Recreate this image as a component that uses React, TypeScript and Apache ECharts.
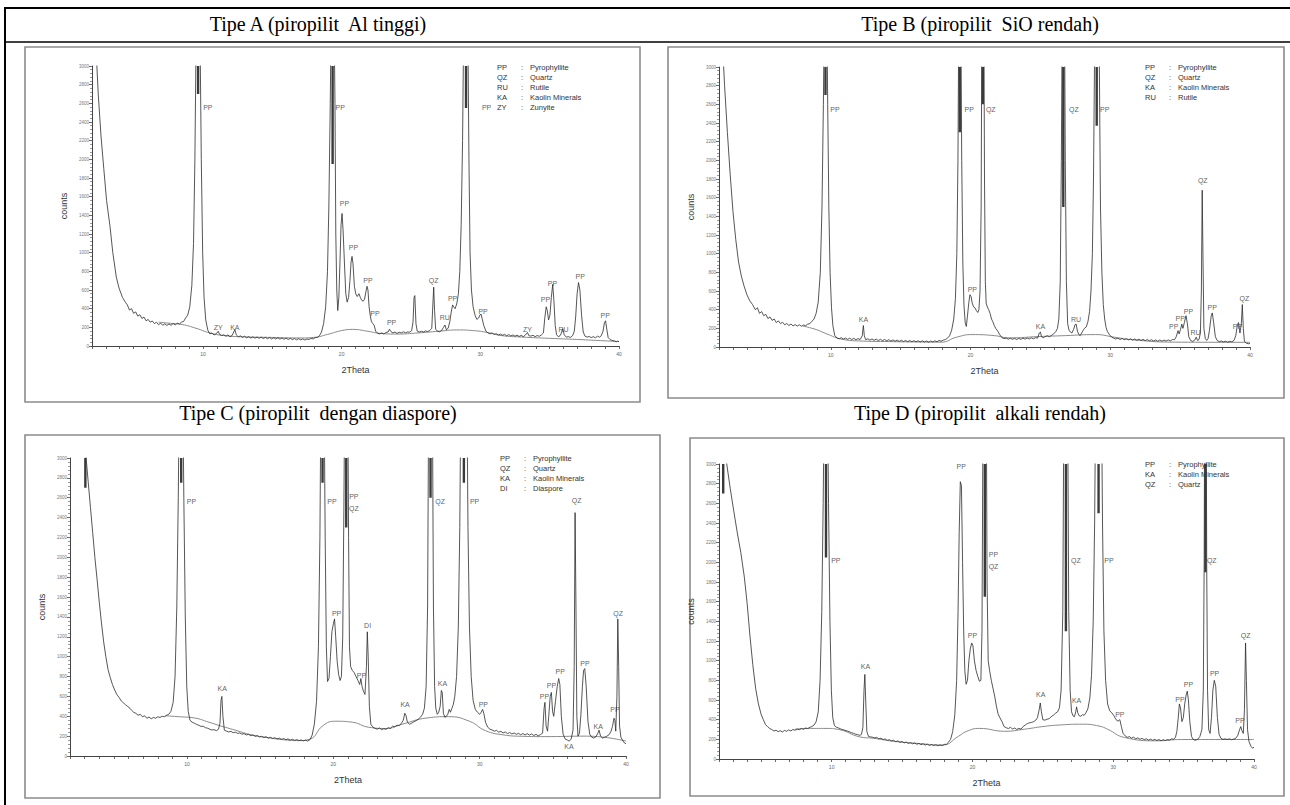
import React, { useEffect, useRef } from "react";
import * as echarts from "echarts";

// ---------- titles ----------
const TITLES = [
  "Tipe A (piropilit\u00a0 Al tinggi)",
  "Tipe B (piropilit\u00a0 SiO rendah)",
  "Tipe C (piropilit\u00a0 dengan diaspore)",
  "Tipe D (piropilit\u00a0 alkali rendah)",
];

// ---------- legends ----------
const legendA = [["PP", "Pyrophyllite"], ["QZ", "Quartz"], ["RU", "Rutile"], ["KA", "Kaolin Minerals"], ["ZY", "Zunyite"]];
const legendB = [["PP", "Pyrophyllite"], ["QZ", "Quartz"], ["KA", "Kaolin Minerals"], ["RU", "Rutile"]];
const legendC = [["PP", "Pyrophyllite"], ["QZ", "Quartz"], ["KA", "Kaolin Minerals"], ["DI", "Diaspore"]];
const legendD = [["PP", "Pyrophyllite"], ["KA", "Kaolin Minerals"], ["QZ", "Quartz"]];

// ---------- axis ----------
const X_MIN = 2;
const X_MAX = 40;
const Y_MIN = 0;
const Y_MAX = 3000;

// ---------- Tipe A pattern [2theta, counts] ----------
const patternA = [
  [2.25, 3300], [2.45, 2700], [2.65, 2250], [2.85, 1900], [3.05, 1560], [3.3, 1280], [3.5, 1000], [3.75, 740], [3.95, 620], [4.2, 520],
  [4.4, 470], [4.55, 440], [4.7, 385], [4.85, 400], [5.0, 350], [5.15, 365], [5.3, 320], [5.45, 335], [5.6, 295], [5.75, 310],
  [5.9, 270], [6.05, 285], [6.2, 255], [6.35, 268], [6.5, 240], [6.65, 255], [6.8, 228], [6.95, 245], [7.1, 222], [7.25, 238],
  [7.4, 220], [7.55, 236], [7.7, 222], [7.85, 240], [8.0, 226], [8.15, 244], [8.3, 235], [8.45, 255], [8.6, 262], [8.75, 300],
  [8.9, 330], [9.05, 420], [9.2, 650], [9.32, 1100], [9.42, 2000], [9.5, 3200], [9.58, 4000], [9.72, 4000], [9.8, 3200], [9.88, 2000],
  [9.98, 1000], [10.08, 520], [10.2, 280], [10.35, 170], [10.5, 130], [10.65, 140], [10.8, 118], [10.95, 130], [11.1, 158], [11.2, 125],
  [11.35, 112], [11.5, 120], [11.65, 105], [11.8, 118], [11.95, 100], [12.1, 112], [12.3, 175], [12.4, 120], [12.55, 98], [12.7, 108],
  [12.85, 92], [13.0, 104], [13.15, 88], [13.3, 100], [13.45, 85], [13.6, 98], [13.75, 84], [13.9, 96], [14.05, 82], [14.2, 95],
  [14.35, 80], [14.5, 92], [14.65, 78], [14.8, 90], [14.95, 76], [15.1, 88], [15.25, 75], [15.4, 87], [15.55, 74], [15.7, 86],
  [15.85, 72], [16.0, 84], [16.15, 70], [16.3, 82], [16.45, 68], [16.6, 80], [16.75, 66], [16.9, 78], [17.05, 65], [17.2, 76],
  [17.35, 64], [17.5, 75], [17.65, 70], [17.8, 82], [17.95, 76], [18.1, 90], [18.25, 92], [18.4, 110], [18.55, 150], [18.7, 240],
  [18.85, 420], [18.98, 800], [19.08, 1500], [19.18, 2600], [19.25, 3600], [19.45, 3600], [19.52, 2600], [19.58, 1200], [19.65, 600], [19.72, 380],
  [19.8, 520], [19.88, 900], [19.96, 1300], [20.03, 1420], [20.1, 1250], [20.2, 900], [20.3, 560], [20.4, 470], [20.5, 520], [20.6, 700],
  [20.68, 900], [20.75, 960], [20.82, 880], [20.92, 640], [21.02, 560], [21.12, 530], [21.25, 560], [21.35, 520], [21.45, 490], [21.55, 480],
  [21.65, 500], [21.75, 580], [21.83, 640], [21.9, 600], [21.98, 420], [22.06, 330], [22.15, 260], [22.25, 240], [22.35, 220], [22.45, 160],
  [22.6, 135], [22.75, 130], [22.9, 140], [23.05, 128], [23.2, 145], [23.35, 150], [23.45, 180], [23.55, 155], [23.7, 140], [23.85, 150],
  [24.0, 135], [24.15, 148], [24.3, 140], [24.45, 152], [24.6, 142], [24.75, 150], [24.9, 148], [25.05, 165], [25.15, 260], [25.22, 520],
  [25.28, 540], [25.36, 240], [25.45, 160], [25.6, 150], [25.75, 158], [25.9, 150], [26.05, 162], [26.2, 155], [26.35, 165], [26.5, 190],
  [26.58, 450], [26.64, 630], [26.7, 380], [26.78, 180], [26.9, 160], [27.05, 152], [27.2, 165], [27.35, 200], [27.45, 225], [27.55, 175],
  [27.68, 190], [27.8, 260], [27.9, 360], [28.0, 440], [28.08, 420], [28.18, 400], [28.3, 450], [28.42, 560], [28.52, 800], [28.62, 1300],
  [28.72, 2200], [28.8, 3400], [28.92, 4000], [29.02, 4000], [29.1, 3400], [29.18, 2000], [29.26, 1000], [29.36, 600], [29.48, 420], [29.62, 330],
  [29.75, 285], [29.88, 300], [29.98, 335], [30.06, 340], [30.15, 280], [30.25, 220], [30.4, 160], [30.55, 140], [30.7, 130], [30.85, 140],
  [31.0, 125], [31.15, 132], [31.3, 118], [31.45, 128], [31.6, 115], [31.75, 125], [31.9, 110], [32.05, 122], [32.2, 108], [32.35, 118],
  [32.5, 105], [32.65, 116], [32.8, 102], [32.95, 114], [33.1, 100], [33.25, 118], [33.4, 145], [33.5, 110], [33.65, 106], [33.8, 115],
  [33.95, 100], [34.1, 112], [34.25, 104], [34.4, 118], [34.55, 140], [34.65, 300], [34.75, 420], [34.83, 380], [34.92, 280], [35.02, 330],
  [35.12, 520], [35.22, 660], [35.3, 500], [35.4, 220], [35.5, 120], [35.62, 100], [35.75, 110], [35.85, 140], [35.95, 185], [36.05, 120],
  [36.2, 95], [36.35, 100], [36.5, 92], [36.65, 110], [36.78, 160], [36.88, 320], [36.98, 560], [37.08, 680], [37.18, 600], [37.3, 330],
  [37.42, 150], [37.55, 105], [37.7, 95], [37.85, 102], [38.0, 90], [38.15, 100], [38.3, 88], [38.45, 105], [38.6, 95], [38.72, 110],
  [38.85, 160], [38.95, 250], [39.03, 270], [39.12, 180], [39.22, 90], [39.35, 70], [39.5, 60], [39.65, 55], [39.8, 45], [39.9, 52], [40.0, 45],
];
const baselineA = [
  [6.8, 255], [7.5, 245], [8.5, 230], [9.5, 190], [10.5, 140], [11.5, 112], [13, 98], [15, 92], [17, 86], [18, 92], [19, 125],
  [20, 165], [20.8, 178], [21.8, 160], [22.8, 135], [24, 128], [25.5, 140], [27, 158], [28.3, 172], [29.5, 165], [30.5, 145],
  [31.5, 112], [33, 96], [35, 82], [37, 70], [39, 55], [40, 48],
];
// clipped peaks: [2theta, lower end of the dark top segment]
const darkA = [[9.65, 2700], [19.35, 1950], [28.97, 2550]];
const labelsA = [
  [10.35, 2560, "PP"], [19.9, 2560, "PP"], [30.45, 2560, "PP"], [20.2, 1530, "PP"], [20.85, 1054, "PP"], [21.9, 705, "PP"],
  [22.4, 345, "PP"], [23.6, 255, "PP"], [26.63, 700, "QZ"], [27.44, 310, "RU"], [28.0, 510, "PP"], [30.2, 365, "PP"],
  [11.1, 200, "ZY"], [12.3, 200, "KA"], [33.4, 175, "ZY"], [34.7, 495, "PP"], [35.2, 675, "PP"], [36.0, 175, "RU"],
  [37.2, 745, "PP"], [39.0, 330, "PP"],
];

// ---------- Tipe B ----------
const patternB = [
  [2.2, 3400], [2.4, 2800], [2.6, 2300], [2.8, 1850], [3.0, 1450], [3.2, 1150], [3.4, 910], [3.6, 760], [3.8, 650], [4.0, 560],
  [4.2, 495], [4.4, 455], [4.6, 400], [4.75, 420], [4.9, 360], [5.05, 380], [5.2, 335], [5.35, 350], [5.5, 305], [5.65, 322],
  [5.8, 285], [5.95, 300], [6.1, 262], [6.25, 280], [6.4, 250], [6.55, 265], [6.7, 238], [6.85, 252], [7.0, 230], [7.15, 246],
  [7.3, 226], [7.45, 240], [7.6, 224], [7.75, 238], [7.9, 222], [8.05, 236], [8.2, 228], [8.35, 245], [8.5, 250], [8.65, 275],
  [8.8, 300], [8.95, 360], [9.1, 480], [9.25, 800], [9.37, 1500], [9.47, 2600], [9.55, 3800], [9.7, 3800], [9.78, 2600], [9.86, 1500],
  [9.95, 800], [10.05, 420], [10.15, 230], [10.28, 125], [10.45, 95], [10.6, 88], [10.75, 100], [10.9, 85], [11.05, 96], [11.2, 82],
  [11.35, 94], [11.5, 80], [11.65, 92], [11.8, 78], [11.95, 90], [12.1, 80], [12.25, 120], [12.33, 230], [12.4, 120], [12.5, 78],
  [12.65, 88], [12.8, 74], [12.95, 86], [13.1, 72], [13.25, 84], [13.4, 70], [13.55, 82], [13.7, 68], [13.85, 80], [14.0, 66],
  [14.15, 78], [14.3, 64], [14.45, 76], [14.6, 62], [14.75, 74], [14.9, 60], [15.05, 72], [15.2, 58], [15.35, 70], [15.5, 57],
  [15.65, 69], [15.8, 56], [15.95, 68], [16.1, 55], [16.25, 67], [16.4, 54], [16.55, 66], [16.7, 53], [16.85, 65], [17.0, 52],
  [17.15, 64], [17.3, 54], [17.45, 66], [17.6, 56], [17.75, 70], [17.9, 62], [18.05, 74], [18.2, 80], [18.35, 95], [18.5, 120],
  [18.65, 180], [18.8, 300], [18.92, 520], [19.02, 1000], [19.1, 2000], [19.17, 3800], [19.3, 3800], [19.37, 2000], [19.45, 900], [19.53, 450],
  [19.62, 260], [19.7, 220], [19.78, 330], [19.88, 480], [19.96, 560], [20.04, 540], [20.12, 470], [20.22, 430], [20.32, 420], [20.42, 390],
  [20.52, 370], [20.6, 400], [20.68, 600], [20.76, 1500], [20.82, 3800], [20.95, 3800], [21.0, 1800], [21.06, 700], [21.12, 470], [21.2, 430],
  [21.3, 400], [21.4, 360], [21.5, 300], [21.6, 270], [21.7, 230], [21.8, 200], [21.95, 170], [22.1, 130], [22.25, 100], [22.4, 90],
  [22.55, 96], [22.7, 84], [22.85, 94], [23.0, 82], [23.15, 92], [23.3, 80], [23.45, 92], [23.6, 82], [23.75, 95], [23.9, 84],
  [24.05, 96], [24.2, 86], [24.35, 98], [24.5, 88], [24.65, 100], [24.8, 95], [24.92, 150], [25.0, 160], [25.08, 110], [25.2, 100],
  [25.35, 112], [25.5, 120], [25.65, 110], [25.8, 125], [25.95, 140], [26.1, 165], [26.22, 200], [26.32, 300], [26.42, 700], [26.5, 2000],
  [26.57, 3800], [26.72, 3800], [26.78, 2000], [26.86, 700], [26.95, 250], [27.05, 180], [27.15, 160], [27.25, 150], [27.38, 190], [27.48, 240],
  [27.56, 245], [27.65, 170], [27.75, 135], [27.85, 122], [27.95, 150], [28.05, 175], [28.15, 200], [28.28, 215], [28.4, 270], [28.52, 380],
  [28.62, 600], [28.72, 1000], [28.8, 1800], [28.87, 3000], [28.92, 3800], [29.15, 3800], [29.22, 3000], [29.3, 1500], [29.4, 800], [29.5, 455],
  [29.6, 300], [29.7, 210], [29.8, 165], [29.95, 130], [30.1, 105], [30.25, 95], [30.4, 85], [30.55, 95], [30.7, 80], [30.85, 92],
  [31.0, 78], [31.15, 90], [31.3, 76], [31.45, 88], [31.6, 74], [31.75, 86], [31.9, 72], [32.05, 84], [32.2, 70], [32.35, 82],
  [32.5, 68], [32.65, 80], [32.8, 66], [32.95, 78], [33.1, 64], [33.25, 76], [33.4, 62], [33.55, 75], [33.7, 62], [33.85, 74],
  [34.0, 64], [34.15, 76], [34.3, 66], [34.45, 80], [34.6, 78], [34.72, 110], [34.85, 175], [34.93, 140], [35.03, 190], [35.12, 245],
  [35.2, 200], [35.3, 260], [35.42, 335], [35.52, 250], [35.62, 110], [35.75, 70], [35.9, 60], [36.05, 75], [36.15, 105], [36.25, 70],
  [36.35, 80], [36.45, 150], [36.52, 600], [36.58, 1680], [36.64, 900], [36.7, 200], [36.8, 90], [36.9, 70], [37.0, 90], [37.1, 180],
  [37.22, 330], [37.3, 365], [37.4, 260], [37.52, 110], [37.65, 70], [37.8, 58], [37.95, 64], [38.1, 55], [38.25, 62], [38.4, 52],
  [38.55, 60], [38.7, 55], [38.85, 70], [38.98, 120], [39.1, 240], [39.18, 262], [39.28, 150], [39.38, 250], [39.45, 455], [39.52, 200],
  [39.6, 60], [39.75, 40], [39.9, 35], [40.0, 38],
];
const baselineB = [
  [8.0, 225], [9.0, 185], [9.6, 147], [10.9, 80], [12, 65], [14.2, 58], [16, 54], [17.9, 52], [19, 105], [20.1, 133], [21.7, 122],
  [22.8, 98], [24.9, 112], [26.8, 122], [28.95, 133], [30.3, 105], [31.6, 77], [34.6, 52], [40, 50],
];
const darkB = [[9.62, 2700], [19.23, 2300], [20.88, 2600], [26.64, 1500], [29.03, 2370]];
const labelsB = [
  [10.3, 2540, "PP"], [19.9, 2540, "PP"], [21.45, 2540, "QZ"], [27.4, 2540, "QZ"], [29.6, 2540, "PP"], [20.13, 612, "PP"],
  [12.34, 300, "KA"], [25.0, 222, "KA"], [27.55, 300, "RU"], [34.54, 222, "PP"], [35.0, 305, "PP"], [35.6, 385, "PP"],
  [36.1, 160, "RU"], [37.3, 420, "PP"], [39.1, 222, "PP"], [39.6, 515, "QZ"], [36.62, 1780, "QZ"],
];

// ---------- Tipe C ----------
const patternC = [
  [2.95, 3400], [3.1, 3000], [3.25, 2750], [3.4, 2500], [3.55, 2250], [3.7, 2000], [3.85, 1780], [4.0, 1550], [4.15, 1340], [4.3, 1150],
  [4.45, 1000], [4.6, 870], [4.75, 790], [4.9, 720], [5.05, 665], [5.2, 620], [5.35, 590], [5.5, 555], [5.65, 535], [5.8, 515],
  [5.95, 498], [6.1, 480], [6.2, 462], [6.35, 440], [6.5, 430], [6.65, 410], [6.8, 420], [6.95, 395], [7.1, 405], [7.25, 380],
  [7.4, 392], [7.55, 375], [7.7, 388], [7.85, 380], [8.0, 395], [8.15, 388], [8.3, 400], [8.45, 395], [8.6, 410], [8.75, 420],
  [8.9, 450], [9.05, 540], [9.18, 800], [9.3, 1500], [9.4, 2600], [9.48, 3800], [9.7, 3800], [9.78, 2600], [9.88, 1400], [9.98, 700],
  [10.08, 450], [10.2, 360], [10.35, 340], [10.5, 330], [10.65, 318], [10.8, 310], [10.95, 298], [11.1, 300], [11.25, 285], [11.4, 280],
  [11.55, 270], [11.7, 262], [11.85, 265], [12.0, 255], [12.15, 270], [12.25, 330], [12.32, 560], [12.38, 600], [12.45, 400], [12.55, 260],
  [12.7, 250], [12.85, 242], [13.0, 248], [13.15, 235], [13.3, 240], [13.45, 228], [13.6, 232], [13.75, 220], [13.9, 225], [14.05, 212],
  [14.2, 218], [14.35, 205], [14.5, 212], [14.65, 198], [14.8, 205], [14.95, 192], [15.1, 198], [15.25, 186], [15.4, 194], [15.55, 180],
  [15.7, 188], [15.85, 176], [16.0, 184], [16.15, 172], [16.3, 180], [16.45, 168], [16.6, 176], [16.75, 164], [16.9, 172], [17.05, 160],
  [17.2, 168], [17.35, 158], [17.5, 165], [17.65, 155], [17.8, 162], [17.95, 152], [18.1, 160], [18.25, 150], [18.4, 165], [18.55, 210],
  [18.7, 320], [18.85, 550], [18.98, 1100], [19.08, 2200], [19.16, 3800], [19.36, 3800], [19.44, 2200], [19.52, 1100], [19.6, 750], [19.7, 780],
  [19.8, 1000], [19.9, 1250], [20.0, 1330], [20.08, 1380], [20.16, 1200], [20.26, 950], [20.36, 820], [20.46, 760], [20.55, 800], [20.64, 1200],
  [20.72, 2500], [20.78, 3800], [20.98, 3800], [21.04, 2200], [21.1, 1100], [21.18, 900], [21.3, 860], [21.42, 840], [21.55, 800], [21.68, 760],
  [21.8, 720], [21.88, 780], [21.96, 700], [22.06, 650], [22.16, 620], [22.26, 900], [22.32, 1250], [22.38, 1000], [22.46, 500], [22.56, 320],
  [22.7, 290], [22.85, 278], [23.0, 270], [23.15, 282], [23.3, 265], [23.45, 275], [23.6, 268], [23.75, 285], [23.9, 278], [24.05, 300],
  [24.2, 295], [24.35, 310], [24.5, 305], [24.65, 330], [24.78, 360], [24.88, 430], [24.96, 410], [25.06, 340], [25.2, 320], [25.35, 330],
  [25.5, 345], [25.65, 355], [25.8, 370], [25.95, 390], [26.1, 420], [26.22, 480], [26.34, 700], [26.44, 1500], [26.52, 3800], [26.76, 3800],
  [26.84, 1500], [26.92, 700], [27.0, 480], [27.1, 420], [27.2, 440], [27.3, 500], [27.38, 660], [27.44, 640], [27.52, 430], [27.62, 390],
  [27.72, 400], [27.82, 420], [27.92, 470], [28.0, 440], [28.1, 480], [28.2, 520], [28.3, 600], [28.42, 800], [28.54, 1300], [28.64, 2300],
  [28.72, 3800], [29.12, 3800], [29.2, 2300], [29.3, 1300], [29.42, 800], [29.55, 560], [29.7, 470], [29.85, 440], [30.0, 420], [30.1, 440],
  [30.2, 470], [30.28, 430], [30.4, 340], [30.55, 290], [30.7, 270], [30.85, 262], [31.0, 250], [31.15, 258], [31.3, 240], [31.45, 248],
  [31.6, 232], [31.75, 242], [31.9, 226], [32.05, 236], [32.2, 222], [32.35, 232], [32.5, 218], [32.65, 228], [32.8, 214], [32.95, 226],
  [33.1, 212], [33.25, 225], [33.4, 210], [33.55, 222], [33.7, 206], [33.85, 218], [34.0, 204], [34.15, 215], [34.3, 230], [34.4, 480],
  [34.46, 540], [34.54, 300], [34.64, 250], [34.72, 400], [34.82, 600], [34.9, 640], [34.98, 450], [35.06, 400], [35.18, 550], [35.3, 700],
  [35.4, 780], [35.48, 720], [35.58, 400], [35.7, 220], [35.85, 170], [36.0, 160], [36.12, 150], [36.25, 170], [36.38, 260], [36.46, 900],
  [36.52, 2450], [36.58, 1500], [36.64, 400], [36.72, 200], [36.82, 230], [36.92, 420], [37.02, 700], [37.1, 860], [37.18, 880], [37.28, 700],
  [37.4, 350], [37.52, 220], [37.65, 190], [37.8, 180], [37.95, 195], [38.08, 230], [38.16, 260], [38.26, 200], [38.4, 180], [38.55, 190],
  [38.7, 200], [38.85, 215], [38.98, 250], [39.08, 300], [39.18, 380], [39.24, 360], [39.3, 250], [39.38, 600], [39.44, 1380], [39.5, 900],
  [39.56, 300], [39.65, 190], [39.8, 150], [39.9, 130], [40.0, 125],
];
const baselineC = [
  [8.5, 405], [9.5, 395], [10.5, 383], [11.5, 340], [12.2, 307], [13.3, 260], [14.4, 213], [15.5, 185], [16.7, 162], [17.6, 155],
  [18.4, 170], [19.3, 307], [20.15, 350], [21.3, 340], [22.4, 290], [23.6, 277], [24.7, 320], [26.4, 383], [27.85, 396], [29.3, 350],
  [30.4, 255], [31.6, 213], [33, 198], [34.4, 195], [37.3, 200], [40, 150],
];
const darkC = [[3.05, 2700], [9.6, 2750], [19.26, 2750], [20.88, 2300], [26.64, 2600], [28.92, 2750]];
const labelsC = [
  [10.3, 2560, "PP"], [19.9, 2560, "PP"], [21.4, 2610, "PP"], [21.4, 2490, "QZ"], [27.3, 2560, "QZ"], [29.65, 2560, "PP"],
  [36.62, 2570, "QZ"], [20.22, 1430, "PP"], [22.34, 1310, "DI"], [21.92, 810, "PP"], [12.4, 680, "KA"], [24.9, 520, "KA"],
  [27.46, 730, "KA"], [30.25, 515, "PP"], [34.43, 595, "PP"], [34.9, 705, "PP"], [35.5, 850, "PP"], [37.2, 930, "PP"],
  [36.1, 100, "KA"], [38.1, 300, "KA"], [39.25, 470, "PP"], [39.46, 1430, "QZ"],
];

// ---------- Tipe D ----------
const patternD = [
  [2.3, 3400], [2.55, 3000], [2.8, 2750], [3.05, 2520], [3.3, 2300], [3.55, 2100], [3.8, 1850], [4.0, 1580], [4.2, 1250], [4.4, 960],
  [4.6, 720], [4.8, 560], [5.0, 450], [5.15, 400], [5.3, 350], [5.45, 330], [5.6, 310], [5.75, 300], [5.9, 285], [6.05, 292],
  [6.2, 278], [6.35, 288], [6.5, 275], [6.65, 290], [6.8, 282], [6.95, 296], [7.1, 285], [7.25, 300], [7.4, 292], [7.55, 305],
  [7.7, 298], [7.85, 310], [8.0, 302], [8.15, 315], [8.3, 310], [8.45, 322], [8.6, 330], [8.75, 345], [8.9, 380], [9.05, 480],
  [9.18, 800], [9.3, 1500], [9.4, 2600], [9.48, 3800], [9.7, 3800], [9.78, 2600], [9.88, 1400], [9.98, 700], [10.08, 420], [10.2, 340],
  [10.35, 322], [10.5, 315], [10.65, 305], [10.8, 298], [10.95, 292], [11.1, 285], [11.25, 278], [11.4, 268], [11.55, 262], [11.7, 252],
  [11.85, 248], [12.0, 240], [12.12, 250], [12.22, 320], [12.3, 700], [12.36, 860], [12.42, 600], [12.5, 280], [12.62, 230], [12.75, 225],
  [12.9, 222], [13.05, 215], [13.2, 220], [13.35, 205], [13.5, 212], [13.65, 198], [13.8, 204], [13.95, 190], [14.1, 196], [14.25, 184],
  [14.4, 190], [14.55, 176], [14.7, 184], [14.85, 170], [15.0, 178], [15.15, 164], [15.3, 172], [15.45, 158], [15.6, 166], [15.75, 154],
  [15.9, 162], [16.05, 150], [16.2, 158], [16.35, 146], [16.5, 154], [16.65, 142], [16.8, 150], [16.95, 138], [17.1, 146], [17.25, 136],
  [17.4, 144], [17.55, 134], [17.7, 142], [17.85, 136], [18.0, 148], [18.15, 150], [18.3, 170], [18.45, 200], [18.6, 280], [18.75, 450],
  [18.88, 800], [18.98, 1500], [19.06, 2300], [19.14, 2820], [19.22, 2780], [19.3, 2000], [19.38, 1300], [19.46, 900], [19.55, 760], [19.65, 800],
  [19.75, 1000], [19.85, 1120], [19.95, 1180], [20.04, 1150], [20.14, 1000], [20.26, 900], [20.38, 840], [20.5, 790], [20.6, 800], [20.68, 1300],
  [20.76, 3800], [20.98, 3800], [21.04, 1800], [21.12, 1000], [21.22, 900], [21.34, 800], [21.46, 720], [21.58, 640], [21.7, 540], [21.82, 460],
  [21.95, 420], [22.1, 380], [22.25, 330], [22.4, 318], [22.55, 310], [22.7, 322], [22.85, 305], [23.0, 315], [23.15, 300], [23.3, 312],
  [23.45, 303], [23.6, 330], [23.75, 345], [23.9, 360], [24.05, 368], [24.2, 372], [24.35, 380], [24.5, 395], [24.62, 420], [24.74, 500],
  [24.82, 570], [24.9, 480], [25.0, 400], [25.15, 395], [25.3, 405], [25.45, 410], [25.6, 430], [25.75, 445], [25.9, 465], [26.05, 480],
  [26.18, 520], [26.3, 700], [26.42, 1500], [26.5, 3800], [26.76, 3800], [26.84, 1500], [26.94, 700], [27.04, 480], [27.14, 440], [27.24, 430],
  [27.34, 480], [27.4, 530], [27.48, 470], [27.58, 440], [27.7, 435], [27.82, 450], [27.94, 445], [28.06, 470], [28.2, 510], [28.34, 620],
  [28.46, 850], [28.58, 1400], [28.68, 2400], [28.76, 3800], [29.16, 3800], [29.24, 2400], [29.34, 1300], [29.46, 800], [29.6, 560], [29.75, 490],
  [29.9, 470], [30.05, 440], [30.2, 400], [30.35, 385], [30.47, 400], [30.58, 330], [30.7, 260], [30.85, 235], [31.0, 220], [31.15, 228],
  [31.3, 212], [31.45, 222], [31.6, 205], [31.75, 215], [31.9, 200], [32.05, 210], [32.2, 196], [32.35, 206], [32.5, 192], [32.65, 202],
  [32.8, 190], [32.95, 200], [33.1, 188], [33.25, 198], [33.4, 186], [33.55, 196], [33.7, 188], [33.85, 198], [34.0, 192], [34.15, 205],
  [34.3, 200], [34.42, 220], [34.52, 280], [34.62, 420], [34.7, 560], [34.78, 520], [34.88, 380], [34.98, 420], [35.08, 560], [35.18, 650],
  [35.26, 690], [35.34, 600], [35.44, 380], [35.56, 230], [35.68, 200], [35.8, 190], [35.92, 195], [36.04, 205], [36.16, 230], [36.3, 300],
  [36.4, 700], [36.46, 2000], [36.5, 3800], [36.6, 3800], [36.64, 2000], [36.7, 700], [36.78, 300], [36.88, 260], [36.98, 420], [37.08, 700],
  [37.18, 800], [37.28, 740], [37.4, 420], [37.52, 250], [37.65, 210], [37.8, 200], [37.95, 205], [38.1, 198], [38.25, 205], [38.4, 196],
  [38.55, 202], [38.7, 210], [38.85, 240], [38.98, 300], [39.06, 330], [39.14, 290], [39.24, 260], [39.32, 500], [39.4, 1180], [39.46, 800],
  [39.54, 300], [39.64, 180], [39.78, 130], [39.9, 110], [40.0, 120],
];
const baselineD = [
  [7.4, 303], [8.5, 311], [9.6, 311], [10.5, 300], [12, 225], [13, 210], [14.4, 180], [16, 160], [17.9, 143], [19, 230], [19.6, 282],
  [20.5, 311], [22.3, 282], [23.7, 303], [25, 330], [26.1, 345], [27.8, 354], [29.0, 335], [29.6, 303], [30.8, 219], [33.1, 185],
  [34.85, 198], [40, 198],
];
const darkD = [[2.3, 2700], [9.6, 2050], [20.88, 1650], [26.64, 1300], [28.96, 2500], [36.55, 1900]];
const labelsD = [
  [10.3, 2020, "PP"], [21.5, 2080, "PP"], [21.5, 1960, "QZ"], [27.35, 2020, "QZ"], [29.7, 2020, "PP"], [37.0, 2020, "QZ"],
  [19.2, 2970, "PP"], [20.0, 1260, "PP"], [12.4, 940, "KA"], [24.85, 660, "KA"], [27.4, 590, "KA"], [30.47, 455, "PP"],
  [34.74, 605, "PP"], [35.35, 755, "PP"], [37.2, 870, "PP"], [39.0, 390, "PP"], [39.4, 1260, "QZ"],
];

// ---------- layout (pixels) ----------
const LAYOUT = [
  { grid: { left: 92, top: 66, width: 527, height: 280 }, box: [25, 47, 615, 355], title: [318, 24], legend: [497, 67], nameGap: 24 },
  { grid: { left: 719, top: 67, width: 531, height: 280 }, box: [668, 47, 616, 351], title: [980, 24], legend: [1145, 67], nameGap: 24 },
  { grid: { left: 70, top: 458, width: 556, height: 298 }, box: [25, 435, 635, 363], title: [318, 413], legend: [500, 458], nameGap: 24 },
  { grid: { left: 719, top: 464, width: 535, height: 295 }, box: [690, 438, 594, 358], title: [980, 413], legend: [1145, 464], nameGap: 24 },
];

const PANELS = [
  { data: patternA, base: baselineA, dark: darkA, labels: labelsA, legend: legendA },
  { data: patternB, base: baselineB, dark: darkB, labels: labelsB, legend: legendB },
  { data: patternC, base: baselineC, dark: darkC, labels: labelsC, legend: legendC },
  { data: patternD, base: baselineD, dark: darkD, labels: labelsD, legend: legendD },
];

const SANS = '"Liberation Sans", Arial, sans-serif';
const SERIF = '"Liberation Serif", "Times New Roman", serif';

function buildOption() {
  const grid = LAYOUT.map((l) => ({ ...l.grid, containLabel: false }));
  const xAxis = LAYOUT.map((_, i) => ({
    type: "value",
    gridIndex: i,
    min: X_MIN,
    max: X_MAX,
    interval: 1,
    name: "2Theta",
    nameLocation: "middle",
    nameGap: 19,
    nameTextStyle: { fontSize: 9, color: "#333", fontFamily: SANS },
    axisLine: { onZero: false, lineStyle: { color: "#444", width: 1 } },
    axisTick: { length: 3, lineStyle: { color: "#444", width: 0.8 } },
    axisLabel: {
      fontSize: 5,
      color: "#666",
      margin: 5,
      fontFamily: SANS,
      formatter: (v: number) => (v % 10 === 0 ? String(v) : ""),
    },
    splitLine: { show: false },
  }));
  const yAxis = LAYOUT.map((l, i) => ({
    type: "value",
    gridIndex: i,
    min: Y_MIN,
    max: Y_MAX,
    interval: 200,
    name: "counts",
    nameLocation: "middle",
    nameGap: l.nameGap,
    nameTextStyle: { fontSize: 9, color: "#333", fontFamily: SANS },
    axisLine: { show: true, lineStyle: { color: "#444", width: 1 } },
    axisTick: { length: 3, lineStyle: { color: "#444", width: 0.8 } },
    minorTick: { show: true, splitNumber: 5, length: 2, lineStyle: { color: "#555", width: 0.6 } },
    axisLabel: {
      fontSize: 4.5,
      color: "#777",
      margin: 3,
      fontFamily: SANS,
      formatter: (v: number) => String(v),
    },
    splitLine: { show: false },
  }));

  const series: any[] = [];
  PANELS.forEach((p, i) => {
    series.push({
      type: "line",
      xAxisIndex: i,
      yAxisIndex: i,
      data: p.base,
      smooth: 0.5,
      symbol: "none",
      lineStyle: { color: "#8a8a8a", width: 1 },
      silent: true,
      z: 2,
    });
    series.push({
      type: "line",
      xAxisIndex: i,
      yAxisIndex: i,
      data: p.data,
      symbol: "none",
      clip: true,
      lineStyle: { color: "#2b2b2b", width: 0.8 },
      silent: true,
      z: 3,
    });
    const darkData: any[] = [];
    p.dark.forEach(([t, lo]) => {
      darkData.push([t, Y_MAX], [t, lo], [t, "-"]);
    });
    series.push({
      type: "line",
      xAxisIndex: i,
      yAxisIndex: i,
      data: darkData,
      symbol: "none",
      connectNulls: false,
      lineStyle: { color: "#3a3a3a", width: 2.4 },
      silent: true,
      z: 4,
    });
    series.push({
      type: "scatter",
      xAxisIndex: i,
      yAxisIndex: i,
      data: p.labels.map(([t, c, s]) => ({ value: [t, c], name: s })),
      symbolSize: 0.1,
      itemStyle: { color: "rgba(0,0,0,0)" },
      clip: false,
      silent: true,
      label: {
        show: true,
        position: "inside",
        formatter: "{b}",
        fontSize: 7,
        color: "#333",
        fontFamily: SANS,
      },
      z: 5,
    });
  });

  const graphic: any[] = [];
  // table lines
  graphic.push({ type: "line", shape: { x1: 5, y1: 8, x2: 1290, y2: 8 }, style: { stroke: "#000", lineWidth: 2 } });
  graphic.push({ type: "line", shape: { x1: 5, y1: 7, x2: 5, y2: 805 }, style: { stroke: "#000", lineWidth: 2 } });
  graphic.push({ type: "line", shape: { x1: 5, y1: 42, x2: 1290, y2: 42 }, style: { stroke: "#000", lineWidth: 1.5 } });

  LAYOUT.forEach((l, i) => {
    const [bx, by, bw, bh] = l.box;
    graphic.push({
      type: "rect",
      z: 0,
      shape: { x: bx, y: by, width: bw, height: bh },
      style: { fill: "none", stroke: "#8c8c8c", lineWidth: 1.6 },
    });
    graphic.push({
      type: "text",
      style: {
        text: TITLES[i],
        x: l.title[0],
        y: l.title[1],
        font: `20px ${SERIF}`,
        fill: "#000",
        textAlign: "center",
        textVerticalAlign: "middle",
        align: "center",
        verticalAlign: "middle",
      },
    });
    const [lx, ly] = l.legend;
    PANELS[i].legend.forEach(([code, nm], k) => {
      const y = ly + k * 10;
      const common = { font: `7.5px ${SANS}`, fill: "#333", textVerticalAlign: "middle", verticalAlign: "middle" };
      graphic.push({ type: "text", style: { ...common, text: code, x: lx, y } });
      graphic.push({ type: "text", style: { ...common, text: ":", x: lx + 24, y } });
      graphic.push({ type: "text", style: { ...common, text: nm, x: lx + 33, y } });
    });
  });

  return {
    animation: false,
    backgroundColor: "#fff",
    textStyle: { fontFamily: SANS },
    grid,
    xAxis,
    yAxis,
    series,
    graphic,
  };
}

export default function App() {
  const ref = useRef<HTMLDivElement>(null);
  useEffect(() => {
    if (!ref.current) return;
    const chart = echarts.init(ref.current, undefined, { renderer: "svg" });
    chart.setOption(buildOption() as any);
    return () => chart.dispose();
  }, []);
  return (
    <div
      ref={ref}
      style={{ position: "absolute", left: 0, top: 0, width: 1290, height: 805, background: "#fff" }}
    />
  );
}
